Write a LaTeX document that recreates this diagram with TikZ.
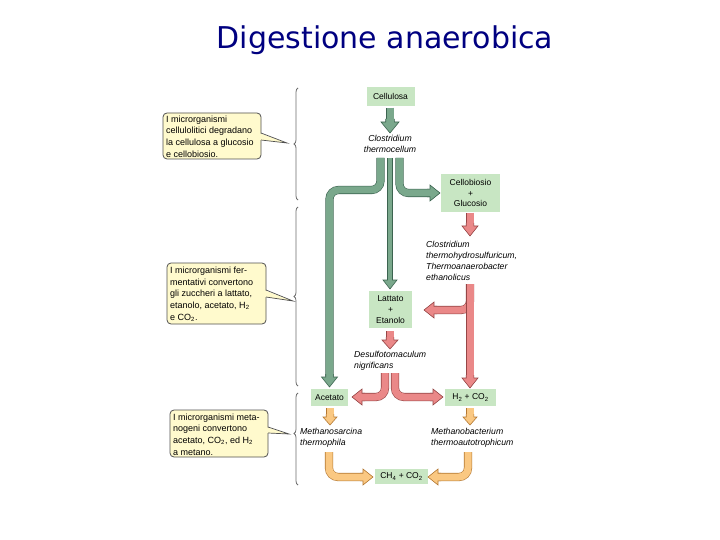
\documentclass[tikz,border=0pt]{standalone}
\usepackage{fontspec}
\setmainfont{Liberation Sans}
\newfontfamily\titlefont{DejaVu Sans}
\usetikzlibrary{decorations.pathreplacing}
\definecolor{boxg}{RGB}{200,230,195}
\definecolor{gfill}{RGB}{122,168,140}
\definecolor{gdraw}{RGB}{60,100,80}
\definecolor{rfill}{RGB}{234,136,136}
\definecolor{rdraw}{RGB}{150,70,70}
\definecolor{ofill}{RGB}{250,200,130}
\definecolor{odraw}{RGB}{180,120,50}
\definecolor{callfill}{RGB}{255,250,205}
\definecolor{calldraw}{RGB}{80,80,80}
\definecolor{bracec}{RGB}{110,110,110}
\definecolor{titlec}{RGB}{0,0,128}
% arrow head: x y angle fill draw shaft-halfwidth head-halfwidth head-length
\newcommand\ahead[8]{%
  \begin{scope}[shift={(#1,#2)},rotate=#3]
    \filldraw[fill=#4,draw=#5,line width=0.6pt,line join=miter,miter limit=10]
      (-#8-3,#6) -- (-#8,#6) -- (-#8,#7) -- (0,0) -- (-#8,-#7) -- (-#8,-#6) -- (-#8-3,-#6);
  \end{scope}}
\tikzset{
  tube/.style={line width=0.6pt, rounded corners=9pt, line cap=butt},
  gtube/.style={tube, draw=gdraw, double=gfill, double distance=7pt},
  gthin/.style={tube, draw=gdraw, double=gfill, double distance=4.4pt},
  rtube/.style={tube, draw=rdraw, double=rfill, double distance=7pt},
  otube/.style={tube, draw=odraw, double=ofill, double distance=7pt},
  gbox/.style={fill=boxg, inner sep=0pt, align=center, font=\fontsize{8.5}{10.8}\selectfont},
  lbl/.style={inner sep=0pt, align=left, font=\fontsize{8.7}{11}\selectfont\itshape},
  calltxt/.style={inner sep=0pt, align=left, anchor=west, font=\fontsize{9}{11.7}\selectfont},
  callbox/.style={fill=callfill, draw=calldraw, line width=0.8pt, rounded corners=4pt},
  bracest/.style={draw=bracec, line width=0.8pt, decorate},
}
\begin{document}
\begin{tikzpicture}[x=1pt,y=-1pt]
\useasboundingbox (0,0) rectangle (720,540);
\fill[white] (0,0) rectangle (720,540);

% title
\node[font=\titlefont\fontsize{30}{34}\selectfont, text=titlec] (title) at (385,40) {Digestione anaerobica};

% braces
\draw[bracest, decoration={brace, amplitude=4pt}] (298,200) -- (298,88);
\draw[bracest, decoration={brace, amplitude=4pt}] (298,386) -- (298,207);
\draw[bracest, decoration={brace, amplitude=4pt, aspect=0.56}] (298,485) -- (298,393);

% callouts
\filldraw[callbox] (163,113) rectangle (261,159);
\fill[callfill] (259,133) -- (287,143) -- (259,140) -- cycle;
\draw[calldraw, line width=0.7pt] (261,133) -- (287,143) -- (261,140);
\node[calltxt] (c1) at (166,136.5) {I microrganismi\\cellulolitici degradano\\la cellulosa a glucosio\\e cellobiosio.};

\filldraw[callbox] (167,263) rectangle (266,324);
\fill[callfill] (264,290) -- (293,301) -- (264,297) -- cycle;
\draw[calldraw, line width=0.7pt] (266,290) -- (293,301) -- (266,297);
\node[calltxt] (c2) at (170,294) {I microrganismi fer-\\mentativi convertono\\gli zuccheri a lattato,\\etanolo, acetato, H\textsubscript{2}\\e CO\textsubscript{2}.};

\filldraw[callbox] (170,410) rectangle (268,457);
\fill[callfill] (266,427) -- (289,434) -- (266,433) -- cycle;
\draw[calldraw, line width=0.7pt] (268,427) -- (289,434) -- (268,433);
\node[calltxt] (c3) at (173,434.5) {I microrganismi meta-\\nogeni convertono\\acetato, CO\textsubscript{2}, ed H\textsubscript{2}\\a metano.};

% boxes
\node[gbox, minimum width=48pt, minimum height=19pt] (cell) at (390.5,96.5) {Cellulosa};
\node[gbox, minimum width=59pt, minimum height=38pt] (cello) at (470.5,193) {Cellobiosio\\+\\Glucosio};
\node[gbox, minimum width=43pt, minimum height=37pt, font=\fontsize{8.5}{11}\selectfont] (latt) at (390.5,309.5) {Lattato\\+\\Etanolo};
\node[gbox, minimum width=37pt, minimum height=17pt] (acet) at (329.5,397.5) {Acetato};
\node[gbox, minimum width=51pt, minimum height=17pt] (h2) at (470.5,397.5) {H\textsubscript{2} + CO\textsubscript{2}};
\node[gbox, minimum width=53pt, minimum height=15pt] (ch4) at (401.5,476.5) {CH\textsubscript{4} + CO\textsubscript{2}};

% organism labels
\node[lbl, align=center] (cth) at (390,144) {Clostridium\\thermocellum};
\node[lbl, anchor=west] (cthh) at (426,261) {Clostridium\\thermohydrosulfuricum,\\Thermoanaerobacter\\ethanolicus};
\node[lbl, anchor=west] (desu) at (354,360.5) {Desulfotomaculum\\nigrificans};
\node[lbl, anchor=west] (msar) at (300,437.5) {Methanosarcina\\thermophila};
\node[lbl, anchor=west] (mbac) at (431,437.5) {Methanobacterium\\thermoautotrophicum};

% green arrows
\draw[gtube] (390,108) -- (390,122);
\ahead{390}{133}{270}{gfill}{gdraw}{4.3}{9}{11}
\draw[gtube] (380.5,158) -- (380.5,190) -- (329.5,190) -- (329.5,376);
\ahead{329.5}{387}{270}{gfill}{gdraw}{3.8}{8}{10}
\draw[gthin] (390,158) -- (390,280);
\ahead{390}{289}{270}{gfill}{gdraw}{2.5}{7}{9}
\draw[gtube] (399.5,158) -- (399.5,193) -- (429,193);
\ahead{440}{193}{0}{gfill}{gdraw}{3.8}{8}{10}

% red arrows
\draw[rtube] (470,213) -- (470,226);
\ahead{470}{236}{270}{rfill}{rdraw}{3.8}{8}{10}
\draw[rtube] (470,284) -- (470,310) -- (435,310);
\ahead{424}{310}{180}{rfill}{rdraw}{3.8}{8}{10}
\draw[rtube] (470,284) -- (470,378);
\ahead{470}{388}{270}{rfill}{rdraw}{3.8}{8}{10}
\draw[rtube] (390,331) -- (390,340);
\ahead{390}{349}{270}{rfill}{rdraw}{3.8}{8}{9}
\draw[rtube] (385,373) -- (385,397) -- (363,397);
\ahead{352}{397}{180}{rfill}{rdraw}{3.8}{8}{10}
\draw[rtube] (395,373) -- (395,397) -- (432,397);
\ahead{443}{397}{0}{rfill}{rdraw}{3.8}{8}{10}

% orange arrows
\draw[otube] (330,408) -- (330,417);
\ahead{330}{425}{270}{ofill}{odraw}{3.8}{7}{8}
\draw[otube] (470,408) -- (470,417);
\ahead{470}{425}{270}{ofill}{odraw}{3.8}{7}{8}
\draw[otube] (329,452) -- (329,477) -- (363,477);
\ahead{373}{477}{0}{ofill}{odraw}{3.8}{8}{10}
\draw[otube] (468,452) -- (468,477) -- (438,477);
\ahead{428}{477}{180}{ofill}{odraw}{3.8}{8}{10}
\end{tikzpicture}
\end{document}
